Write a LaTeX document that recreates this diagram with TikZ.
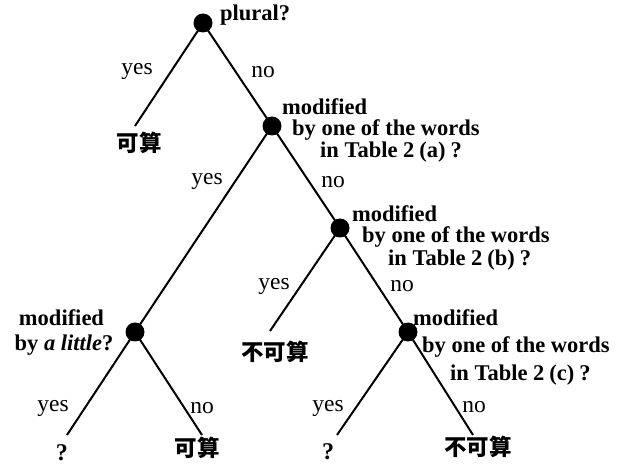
\documentclass[tikz,border=0pt]{standalone}
\usepackage{fontspec}
\setmainfont{Liberation Serif}
\newfontfamily\cjk{Noto Sans CJK SC}
\begin{document}
\begin{tikzpicture}[x=1pt,y=-1pt,
  dot/.style={circle,fill=black,inner sep=0pt,minimum size=19pt},
  edge/.style={line width=2pt},
  ans/.style={inner sep=0pt,font=\fontsize{23.5}{23.5}\selectfont},
  q/.style={inner sep=0pt,anchor=west,font=\fontsize{22.5}{22.5}\selectfont\bfseries},
  qc/.style={inner sep=0pt,font=\fontsize{22.5}{22.5}\selectfont\bfseries},
  leaf/.style={inner sep=0pt,font=\fontsize{22.5}{22.5}\selectfont\cjk\bfseries},
  qm/.style={inner sep=0pt,font=\fontsize{24}{24}\selectfont\bfseries}]
\useasboundingbox (0,0) rectangle (633,468);
% decision nodes
\node[dot] (r) at (203,23) {};
\node[dot] (n1) at (272,126) {};
\node[dot] (n2) at (340,228) {};
\node[dot] (n3) at (135,332) {};
\node[dot] (n4) at (408,332) {};
% free ends
\coordinate (e0) at (135,126);
\coordinate (e2) at (270,331);
\coordinate (e3y) at (67,435);
\coordinate (e3n) at (202,435);
\coordinate (e4y) at (337,435);
\coordinate (e4n) at (473,435);
% edges
\draw[edge] (r.center) -- (e0);
\draw[edge] (r.center) -- (n1.center);
\draw[edge] (n1.center) -- (n3.center);
\draw[edge] (n1.center) -- (n2.center);
\draw[edge] (n2.center) -- (e2);
\draw[edge] (n2.center) -- (n4.center);
\draw[edge] (n3.center) -- (e3y);
\draw[edge] (n3.center) -- (e3n);
\draw[edge] (n4.center) -- (e4y);
\draw[edge] (n4.center) -- (e4n);
% questions
\node[q] (qr) at (220,15) {plural?};
\node[q] (q1a) at (282,107) {modified};
\node[q] (q1b) at (292,130) {by one of the words};
\node[q] (q1c) at (320,152) {in Table 2\kern5pt(a)\kern5pt?};
\node[q] (q2a) at (352,214) {modified};
\node[q] (q2b) at (362,237) {by one of the words};
\node[q] (q2c) at (388,260) {in Table 2\kern5pt(b)\kern5pt?};
\node[qc] (q3a) at (61.5,318) {modified};
\node[qc] (q3b) at (64,345) {by \textit{a little}?};
\node[q] (q4a) at (413,318) {modified};
\node[q] (q4b) at (422,347) {by one of the words};
\node[q] (q4c) at (450,375) {in Table 2\kern5pt(c)\kern5pt?};
% branch labels
\node[ans] (yr) at (137,72) {yes};
\node[ans] (nr) at (263,72) {no};
\node[ans] (y1) at (207,182) {yes};
\node[ans] (no1) at (333,182) {no};
\node[ans] (y2) at (274,286) {yes};
\node[ans] (no2) at (402,286) {no};
\node[ans] (y3) at (53,408) {yes};
\node[ans] (no3) at (202,408) {no};
\node[ans] (y4) at (328,408) {yes};
\node[ans] (no4) at (474,407) {no};
% leaves
\node[leaf] (l0) at (139,143) {可算};
\node[leaf] (l2) at (275,352) {不可算};
\node[qm] (l3y) at (62,453) {?};
\node[leaf] (l3n) at (197,448) {可算};
\node[qm] (l4y) at (328,452) {?};
\node[leaf] (l4n) at (478,447) {不可算};
\end{tikzpicture}
\end{document}
